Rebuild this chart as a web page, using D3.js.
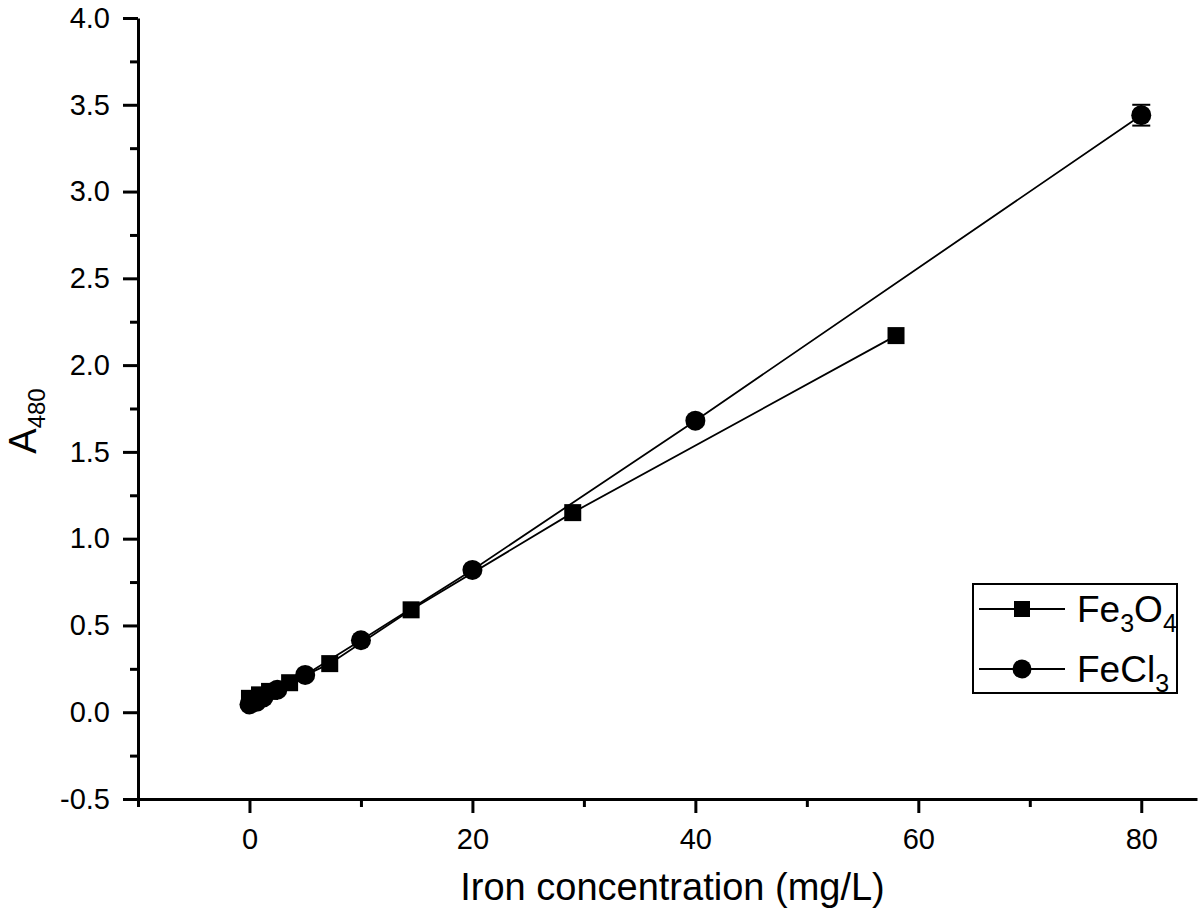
<!DOCTYPE html>
<html>
<head>
<meta charset="utf-8">
<script src="https://cdn.jsdelivr.net/npm/d3@7"></script>
<style>
  html, body { margin: 0; padding: 0; background: #fff; }
  svg { display: block; font-family: "Liberation Sans", Arial, Helvetica, sans-serif; }
</style>
</head>
<body>
<svg id="chart" width="1200" height="908"></svg>
<script>
// ---- data ----
const fe3o4X = [0, 0.9, 1.8, 3.6, 7.2, 14.5, 29, 58];
const fe3o4Y = [0.08, 0.10, 0.12, 0.17, 0.28, 0.59, 1.15, 2.17];
const fecl3X = [0, 0.625, 1.25, 2.5, 5, 10, 20, 40, 80];
const fecl3Y = [0.045, 0.06, 0.085, 0.13, 0.215, 0.415, 0.82, 1.68, 3.44];
const fecl3Err = [0, 0, 0, 0, 0, 0, 0, 0, 0.06];
const xMajorTicks = [0, 20, 40, 60, 80];
const xMinorTicks = [-10, 10, 30, 50, 70];
const yMajorTicks = [-0.5, 0, 0.5, 1.0, 1.5, 2.0, 2.5, 3.0, 3.5, 4.0];
const yMinorTicks = [-0.25, 0.25, 0.75, 1.25, 1.75, 2.25, 2.75, 3.25, 3.75];
const xTitle = "Iron concentration (mg/L)";

const svg = d3.select("#chart");
const x = d3.scaleLinear().domain([-10, 85]).range([138, 1197]);
const y = d3.scaleLinear().domain([-0.5, 4]).range([799, 18]);

function styleAxis(g, fs) {
  g.select(".domain").attr("stroke", "#000").attr("stroke-width", 3);
  g.selectAll(".tick line").attr("stroke", "#000").attr("stroke-width", 3);
  g.selectAll(".tick text").attr("fill", "#000").attr("font-size", fs)
    .attr("font-family", '"Liberation Sans", Arial, sans-serif');
}

// x axis
const gx = svg.append("g").attr("transform", "translate(0,799)")
  .call(d3.axisBottom(x).tickValues(xMajorTicks).tickSize(14).tickPadding(15).tickSizeOuter(0).tickFormat(d3.format("d")));
styleAxis(gx, 29);
const gxm = svg.append("g").attr("transform", "translate(0,799)")
  .call(d3.axisBottom(x).tickValues(xMinorTicks).tickSize(8).tickSizeOuter(0).tickFormat(""));
styleAxis(gxm, 29);
gxm.select(".domain").remove();

// y axis
const fmtY = d => d3.format(".1f")(d).replace("\u2212", "-");
const gy = svg.append("g").attr("transform", "translate(138,0)")
  .call(d3.axisLeft(y).tickValues(yMajorTicks).tickSize(15).tickPadding(13).tickSizeOuter(0).tickFormat(fmtY));
styleAxis(gy, 29);
const gym = svg.append("g").attr("transform", "translate(138,0)")
  .call(d3.axisLeft(y).tickValues(yMinorTicks).tickSize(8).tickSizeOuter(0).tickFormat(""));
styleAxis(gym, 29);
gym.select(".domain").remove();

// axis titles
svg.append("text").attr("x", (x.range()[0] + x.range()[1]) / 2 + 5).attr("y", 900)
  .attr("text-anchor", "middle").attr("font-size", 38).attr("fill", "#000").text(xTitle);

const yt = svg.append("text").attr("transform", "translate(36,421) rotate(-90)")
  .attr("text-anchor", "middle").attr("font-size", 38).attr("fill", "#000");
yt.append("tspan").text("A");
yt.append("tspan").attr("font-size", 24).attr("dy", 9).text("480");

// series
const line = d3.line().x(d => x(d[0])).y(d => y(d[1]));
const sq = fe3o4X.map((v, i) => [v, fe3o4Y[i]]);
const ci = fecl3X.map((v, i) => [v, fecl3Y[i], fecl3Err[i]]);

svg.append("path").datum(sq).attr("d", line).attr("fill", "none").attr("stroke", "#000").attr("stroke-width", 1.8);
svg.append("path").datum(ci).attr("d", line).attr("fill", "none").attr("stroke", "#000").attr("stroke-width", 1.8);

// error bars
const eb = svg.append("g").attr("stroke", "#000").attr("stroke-width", 2);
ci.filter(d => d[2] > 0).forEach(d => {
  eb.append("line").attr("x1", x(d[0])).attr("x2", x(d[0])).attr("y1", y(d[1] - d[2])).attr("y2", y(d[1] + d[2]));
  eb.append("line").attr("x1", x(d[0]) - 9).attr("x2", x(d[0]) + 9).attr("y1", y(d[1] + d[2])).attr("y2", y(d[1] + d[2]));
  eb.append("line").attr("x1", x(d[0]) - 9).attr("x2", x(d[0]) + 9).attr("y1", y(d[1] - d[2])).attr("y2", y(d[1] - d[2]));
});

const S = 17, R = 10;
svg.append("g").selectAll("rect").data(sq).join("rect")
  .attr("x", d => x(d[0]) - S / 2).attr("y", d => y(d[1]) - S / 2)
  .attr("width", S).attr("height", S).attr("fill", "#000");
svg.append("g").selectAll("circle").data(ci).join("circle")
  .attr("cx", d => x(d[0])).attr("cy", d => y(d[1])).attr("r", R).attr("fill", "#000");

// legend
const lg = svg.append("g");
lg.append("rect").attr("x", 973).attr("y", 584).attr("width", 204).attr("height", 109)
  .attr("fill", "#fff").attr("stroke", "#000").attr("stroke-width", 2);
const items = [
  { parts: [["Fe", 0], ["3", 1], ["O", 0], ["4", 1]], shape: "square", yy: 609 },
  { parts: [["FeCl", 0], ["3", 1]], shape: "circle", yy: 669 }
];
items.forEach(it => {
  lg.append("line").attr("x1", 979).attr("x2", 1065).attr("y1", it.yy).attr("y2", it.yy)
    .attr("stroke", "#000").attr("stroke-width", 1.8);
  if (it.shape === "square") {
    lg.append("rect").attr("x", 1022 - 8).attr("y", it.yy - 8).attr("width", 16).attr("height", 16).attr("fill", "#000");
  } else {
    lg.append("circle").attr("cx", 1022).attr("cy", it.yy).attr("r", 9.5).attr("fill", "#000");
  }
  const t = lg.append("text").attr("x", 1077).attr("y", it.yy + 13).attr("font-size", 37).attr("fill", "#000");
  let sub = false;
  it.parts.forEach(p => {
    const ts = t.append("tspan").text(p[0]);
    if (p[1] === 1 && !sub) { ts.attr("font-size", 25).attr("dy", 10); sub = true; }
    else if (p[1] === 0 && sub) { ts.attr("dy", -10); sub = false; }
    else if (p[1] === 1) { ts.attr("font-size", 25); }
  });
});
</script>
</body>
</html>
